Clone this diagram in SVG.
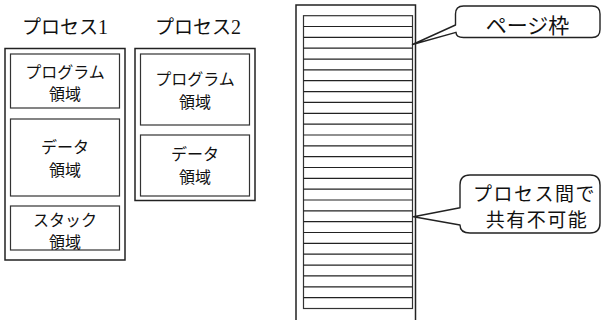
<svg xmlns="http://www.w3.org/2000/svg" width="601" height="320" viewBox="0 0 601 320">
<style>
.outer{fill:#fff;stroke:#222;stroke-width:1.5}
.inner{fill:#fff;stroke:#333;stroke-width:1.2}
.row{stroke:#222;stroke-width:1.2}
.t{font-family:"Noto Sans CJK JP","Noto Sans",sans-serif;font-size:16px;fill:#111;text-anchor:middle}
.title{font-family:"Noto Sans CJK JP","Noto Sans",sans-serif;font-size:19px;fill:#111;text-anchor:middle}
.num{font-family:"Liberation Serif",serif;font-size:20px}
.co{font-family:"Noto Sans CJK JP","Noto Sans",sans-serif;font-size:21px;fill:#111;text-anchor:middle}
.co2{font-family:"Noto Sans CJK JP","Noto Sans",sans-serif;font-size:19px;letter-spacing:1.5px;fill:#111;text-anchor:middle}
.callout{fill:#fff;stroke:#222;stroke-width:1.4;stroke-linejoin:round}
</style>
<g id="process1">
<text class="title" x="65" y="34">プロセス<tspan class="num">1</tspan></text>
<rect class="outer" x="5" y="48.5" width="120" height="211.5"/>
<rect class="inner" x="10.5" y="54" width="109" height="54"/>
<text class="t" x="65" y="78">プログラム</text>
<text class="t" x="65" y="100">領域</text>
<rect class="inner" x="10.5" y="119" width="109" height="77"/>
<text class="t" x="65" y="153">データ</text>
<text class="t" x="65" y="176">領域</text>
<rect class="inner" x="10.5" y="206" width="109" height="44"/>
<text class="t" x="65" y="226">スタック</text>
<text class="t" x="65" y="248">領域</text>
</g>
<g id="process2">
<text class="title" x="198" y="34">プロセス<tspan class="num">2</tspan></text>
<rect class="outer" x="135" y="48.5" width="120" height="152"/>
<rect class="inner" x="140.5" y="54" width="109" height="71"/>
<text class="t" x="195" y="85">プログラム</text>
<text class="t" x="195" y="108">領域</text>
<rect class="inner" x="140.5" y="135" width="109" height="61"/>
<text class="t" x="195" y="160">データ</text>
<text class="t" x="195" y="183">領域</text>
</g>
<g id="memory">
<rect class="outer" x="296" y="5" width="119.5" height="320"/>
<rect class="inner" x="303.5" y="15.7" width="109" height="292.8"/>
<g class="row">
<line x1="303.5" x2="412.5" y1="26.5" y2="26.5"/>
<line x1="303.5" x2="412.5" y1="37.4" y2="37.4"/>
<line x1="303.5" x2="412.5" y1="48.2" y2="48.2"/>
<line x1="303.5" x2="412.5" y1="59.1" y2="59.1"/>
<line x1="303.5" x2="412.5" y1="69.9" y2="69.9"/>
<line x1="303.5" x2="412.5" y1="80.7" y2="80.7"/>
<line x1="303.5" x2="412.5" y1="91.6" y2="91.6"/>
<line x1="303.5" x2="412.5" y1="102.4" y2="102.4"/>
<line x1="303.5" x2="412.5" y1="113.3" y2="113.3"/>
<line x1="303.5" x2="412.5" y1="124.1" y2="124.1"/>
<line x1="303.5" x2="412.5" y1="135" y2="135"/>
<line x1="303.5" x2="412.5" y1="145.8" y2="145.8"/>
<line x1="303.5" x2="412.5" y1="156.6" y2="156.6"/>
<line x1="303.5" x2="412.5" y1="167.5" y2="167.5"/>
<line x1="303.5" x2="412.5" y1="178.3" y2="178.3"/>
<line x1="303.5" x2="412.5" y1="189.2" y2="189.2"/>
<line x1="303.5" x2="412.5" y1="200" y2="200"/>
<line x1="303.5" x2="412.5" y1="210.9" y2="210.9"/>
<line x1="303.5" x2="412.5" y1="221.7" y2="221.7"/>
<line x1="303.5" x2="412.5" y1="232.5" y2="232.5"/>
<line x1="303.5" x2="412.5" y1="243.4" y2="243.4"/>
<line x1="303.5" x2="412.5" y1="254.2" y2="254.2"/>
<line x1="303.5" x2="412.5" y1="265.1" y2="265.1"/>
<line x1="303.5" x2="412.5" y1="275.9" y2="275.9"/>
<line x1="303.5" x2="412.5" y1="286.8" y2="286.8"/>
<line x1="303.5" x2="412.5" y1="297.6" y2="297.6"/>
</g>
</g>
<g id="callout-page">
<path class="callout" d="M463.5 6 H592 Q600 6 600 14 V29.5 Q600 37.5 592 37.5 H463.5 Q456 37.5 456 32.3 L412.5 44.5 L455.5 25 V14 Q455.5 6 463.5 6 Z"/>
<text class="co" x="527.5" y="33">ページ枠</text>
</g>
<g id="callout-share">
<path class="callout" d="M470 175 H590 Q600 175 600 185 V223 Q600 233 590 233 H470 Q460 233 460 225 L413.5 216.7 L460 207.7 V185 Q460 175 470 175 Z"/>
<text class="co2" x="534.5" y="200.5">プロセス間で</text>
<text class="co2" x="537" y="227">共有不可能</text>
</g>
</svg>
